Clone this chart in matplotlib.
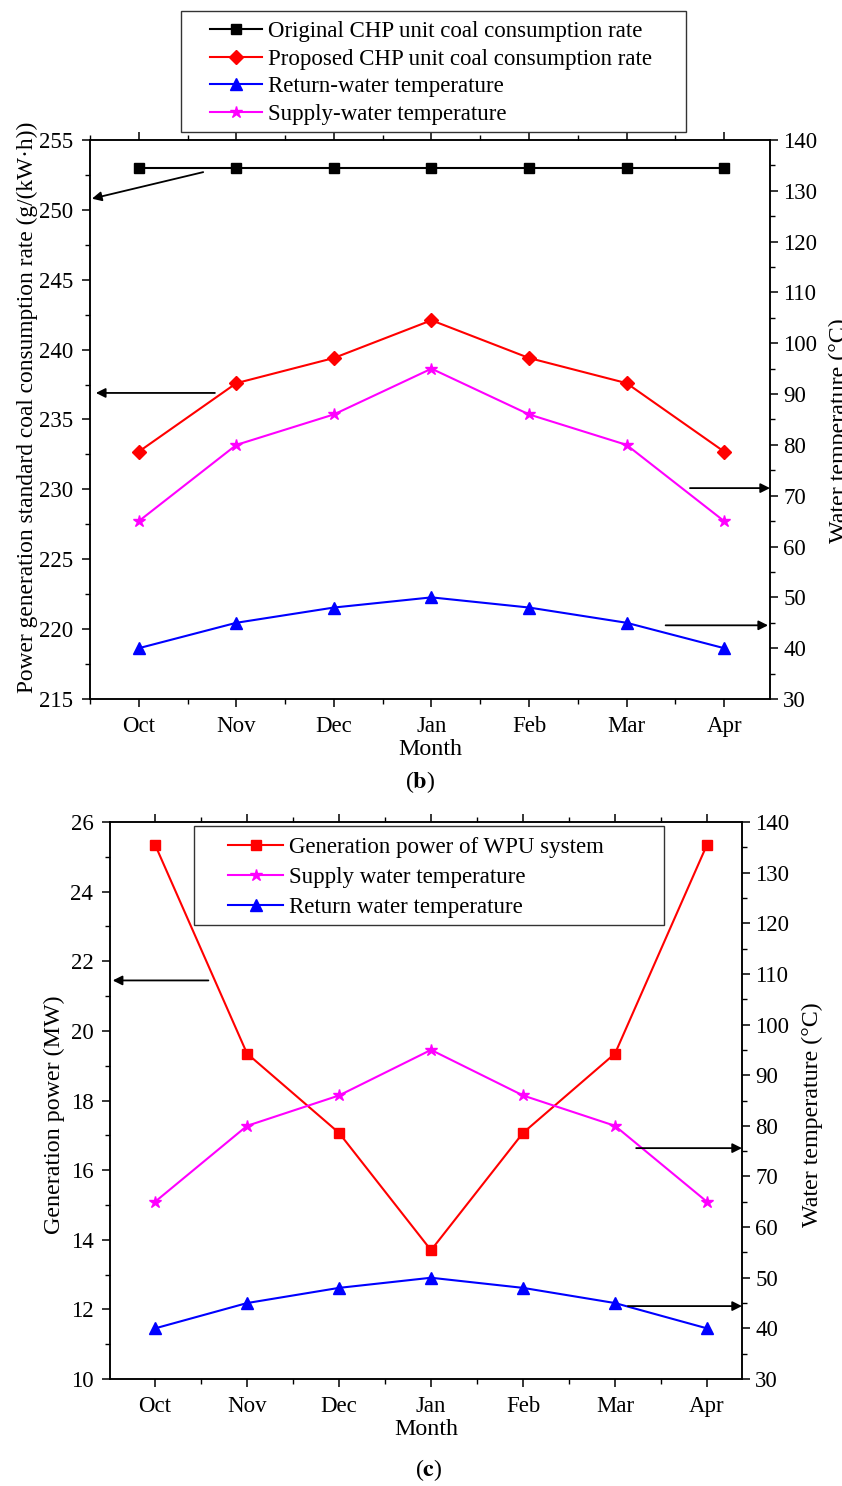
import matplotlib
matplotlib.use('Agg')
import matplotlib.pyplot as plt
from matplotlib.patches import Rectangle
from matplotlib.ticker import MultipleLocator

plt.rcParams['font.family'] = ['Liberation Serif', 'DejaVu Serif']
plt.rcParams['mathtext.fontset'] = 'stix'
plt.rcParams['axes.linewidth'] = 1.1

# data
months = ['Oct', 'Nov', 'Dec', 'Jan', 'Feb', 'Mar', 'Apr']
orig_coal = [253, 253, 253, 253, 253, 253, 253]
prop_coal = [232.7, 237.6, 239.4, 242.1, 239.4, 237.6, 232.7]
return_temp = [40, 45, 48, 50, 48, 45, 40]
supply_temp = [65, 80, 86, 95, 86, 80, 65]
wpu_power = [25.35, 19.35, 17.07, 13.7, 17.07, 19.35, 25.35]

FS = 16.5
LFS = 17.3
W, H = 842, 1486
x = list(range(len(months)))

fig = plt.figure(figsize=(W / 100, H / 100), dpi=100)


def style_axes(ax, ax2):
    ax.set_xticks(x)
    ax.set_xticklabels(months, fontsize=FS)
    ax.xaxis.set_minor_locator(MultipleLocator(0.5))
    ax.tick_params(axis='x', which='both', direction='out', top=True, bottom=True)
    ax.tick_params(which='major', length=6, width=1.1, labelsize=FS)
    ax.tick_params(which='minor', length=3.5, width=1.0)
    ax.tick_params(axis='x', which='major', pad=6)
    ax.tick_params(axis='y', which='major', pad=6)
    ax2.tick_params(which='major', length=6, width=1.1, labelsize=FS, direction='out')
    ax2.tick_params(which='minor', length=3.5, width=1.0, direction='out')
    ax.set_xlabel('Month', fontsize=LFS, labelpad=2)


def arrow(ax, xy_tail, xy_head):
    ax.annotate('', xy=xy_head, xytext=xy_tail, xycoords='data', textcoords='data',
                arrowprops=dict(arrowstyle='-|>', color='black', lw=1.3,
                                mutation_scale=14, shrinkA=0, shrinkB=0),
                annotation_clip=False)


def boxed_legend(handles, box_px, handle_x_px, center_y_px, hlen, spacing):
    x0, y0, x1, y1 = box_px
    fig.add_artist(Rectangle((x0 / W, 1 - y1 / H), (x1 - x0) / W, (y1 - y0) / H,
                             transform=fig.transFigure, facecolor='white',
                             edgecolor='#333333', lw=1.0, zorder=4))
    leg = fig.legend(handles=handles, loc='center left',
                     bbox_to_anchor=(handle_x_px / W, 1 - center_y_px / H),
                     fontsize=FS, frameon=False, handlelength=hlen, handletextpad=0.28,
                     labelspacing=spacing, borderpad=0, borderaxespad=0)
    leg.set_zorder(5)
    return leg


# ---------------- panel (b) ----------------
ax1 = fig.add_axes([0.1069, 0.5296, 0.8076, 0.3762])
ax1b = ax1.twinx()
l1, = ax1.plot(x, orig_coal, color='black', marker='s', markersize=7, lw=1.5,
               label='Original CHP unit coal consumption rate')
l2, = ax1.plot(x, prop_coal, color='red', marker='D', markersize=7, lw=1.5,
               label='Proposed CHP unit coal consumption rate')
l3, = ax1b.plot(x, return_temp, color='blue', marker='^', markersize=8, lw=1.5,
                label='Return-water temperature')
l4, = ax1b.plot(x, supply_temp, color='magenta', marker='*', markersize=9, lw=1.5,
                label='Supply-water temperature')
ax1.set_xlim(-0.5, 6.47)
ax1.set_ylim(215, 255)
ax1.yaxis.set_major_locator(MultipleLocator(5))
ax1.yaxis.set_minor_locator(MultipleLocator(2.5))
ax1b.set_ylim(30, 140)
ax1b.yaxis.set_major_locator(MultipleLocator(10))
ax1b.yaxis.set_minor_locator(MultipleLocator(5))
style_axes(ax1, ax1b)
ax1.set_ylabel('Power generation standard coal consumption rate (g/(kW·h))',
               fontsize=16.8, labelpad=1)
ax1.yaxis.label.set_y(0.522)
ax1b.set_ylabel('Water temperature (°C)', fontsize=LFS, labelpad=8)
ax1b.yaxis.label.set_y(0.48)

arrow(ax1, (0.66, 252.7), (-0.48, 250.8))
arrow(ax1, (0.78, 236.9), (-0.44, 236.9))
arrow(ax1b, (5.65, 71.5), (6.47, 71.5))
arrow(ax1b, (5.4, 44.5), (6.45, 44.5))

boxed_legend([l1, l2, l3, l4], (181, 11, 686, 132), 210, 73, 2.27, 0.30)

fig.text(0.4988, 1 - 782 / H, r'($\mathbf{b}$)', ha='center', va='center', fontsize=LFS)

# ---------------- panel (c) ----------------
ax2 = fig.add_axes([0.1306, 0.0720, 0.7506, 0.3748])
ax2b = ax2.twinx()
m1, = ax2.plot(x, wpu_power, color='red', marker='s', markersize=7, lw=1.5,
               label='Generation power of WPU system')
m2, = ax2b.plot(x, supply_temp, color='magenta', marker='*', markersize=9, lw=1.5,
                label='Supply water temperature')
m3, = ax2b.plot(x, return_temp, color='blue', marker='^', markersize=8, lw=1.5,
                label='Return water temperature')
ax2.set_xlim(-0.49, 6.38)
ax2.set_ylim(10, 26)
ax2.yaxis.set_major_locator(MultipleLocator(2))
ax2.yaxis.set_minor_locator(MultipleLocator(1))
ax2b.set_ylim(30, 140)
ax2b.yaxis.set_major_locator(MultipleLocator(10))
ax2b.yaxis.set_minor_locator(MultipleLocator(5))
style_axes(ax2, ax2b)
ax2.set_ylabel('Generation power (MW)', fontsize=LFS, labelpad=4)
ax2.yaxis.label.set_y(0.475)
ax2b.set_ylabel('Water temperature (°C)', fontsize=LFS, labelpad=9)
ax2b.yaxis.label.set_y(0.475)

arrow(ax2, (0.58, 21.45), (-0.46, 21.45))
arrow(ax2b, (5.23, 75.6), (6.38, 75.6))
arrow(ax2b, (5.14, 44.4), (6.38, 44.4))

boxed_legend([m1, m2, m3], (194, 826, 664, 925), 228, 877.5, 2.4, 0.41)

fig.text(0.5095, 1 - 1470 / H, r'($\mathbf{c}$)', ha='center', va='center', fontsize=LFS)

fig.savefig('out.png', dpi=100)
